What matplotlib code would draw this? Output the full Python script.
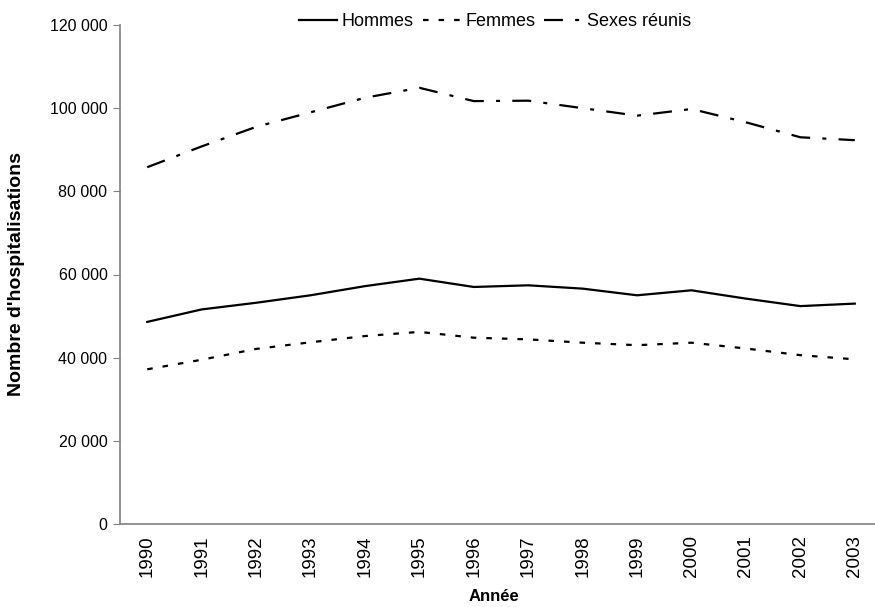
import matplotlib.pyplot as plt
from matplotlib.ticker import FuncFormatter

plt.rcParams['font.family'] = ['Liberation Sans', 'DejaVu Sans']

years = ['1990', '1991', '1992', '1993', '1994', '1995', '1996',
         '1997', '1998', '1999', '2000', '2001', '2002', '2003']
hommes = [48600, 51600, 53200, 55000, 57200, 59000, 57000,
          57400, 56600, 55000, 56200, 54200, 52400, 53000]
femmes = [37200, 39500, 42100, 43700, 45200, 46200, 44800,
          44400, 43600, 43000, 43600, 42200, 40600, 39600]
sexes_reunis = [85800, 90800, 95500, 99000, 102500, 104900, 101700,
                101800, 100000, 98200, 99800, 96600, 93000, 92300]

fig = plt.figure(figsize=(8.75, 6.07), dpi=100)
ax = fig.add_axes([120 / 875, 83 / 607, 762 / 875, 499 / 607])

x = range(len(years))
ax.plot(x, hommes, color='black', linewidth=1.6, label='Hommes')
ax.plot(x, femmes, color='black', linewidth=1.6, dashes=(2.5, 4.5), label='Femmes')
ax.plot(x, sexes_reunis, color='black', linewidth=1.6,
        dashes=(8.5, 5.5, 1.8, 5.5), label='Sexes réunis')

ax.set_xlim(-0.5, len(years) - 0.5)
ax.set_ylim(0, 120000)
ax.set_yticks(range(0, 120001, 20000))
ax.yaxis.set_major_formatter(FuncFormatter(lambda v, p: f'{int(v):,}'.replace(',', ' ')))
ax.set_xticks(list(x))
ax.set_xticklabels(years, rotation=90, fontsize=13.5)

for s in ['top', 'right']:
    ax.spines[s].set_visible(False)
for s in ['left', 'bottom']:
    ax.spines[s].set_color('#808080')
    ax.spines[s].set_linewidth(1.2)
ax.tick_params(axis='y', colors='#808080', labelcolor='black', length=5, labelsize=11.5, pad=4)
ax.tick_params(axis='x', length=0, pad=8)

ax.set_ylabel("Nombre d'hospitalisations", fontsize=14, fontweight='bold')
ax.yaxis.set_label_coords(-0.125, 0.5)
ax.set_xlabel('Année', fontsize=12, fontweight='bold')
ax.xaxis.set_label_coords(0.491, -0.13)

leg = ax.legend(loc='center', bbox_to_anchor=(495 / 875, 1 - 22 / 607), bbox_transform=fig.transFigure,
                ncol=3, frameon=False, fontsize=13, handlelength=2.1, handletextpad=0.25,
                columnspacing=0.5, borderaxespad=0, borderpad=0)

plt.savefig('out.png', dpi=100)
